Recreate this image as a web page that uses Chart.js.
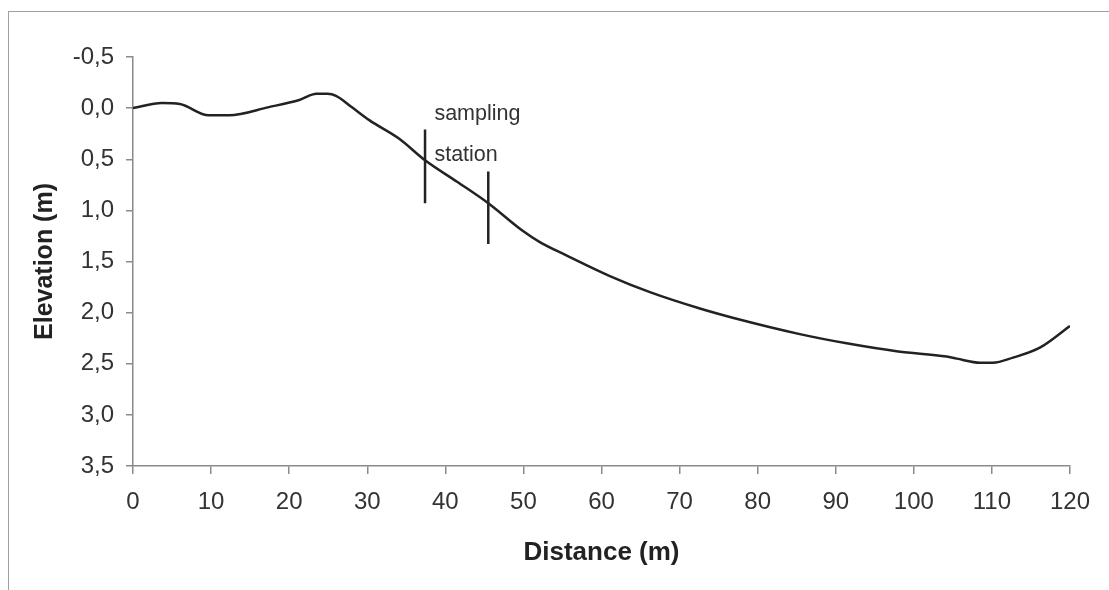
<!DOCTYPE html>
<html>
<head>
<meta charset="utf-8">
<script src="https://cdn.jsdelivr.net/npm/chart.js@4/dist/chart.umd.min.js"></script>
<style>
    html, body { margin: 0; padding: 0; background: #fff; overflow: hidden; }
    #wrap { position: relative; width: 1109px; height: 590px; }
    #frame { position: absolute; left: 8px; top: 11px; width: 1200px; height: 700px; border: 1px solid #a0a0a0; }
    #chart { position: absolute; left: 0; top: 0; }
</style>
</head>
<body>
<div id="wrap">
    <div id="frame"></div>
    <canvas id="chart" width="1109" height="590"></canvas>
</div>
<script>
// perfil del transecto
const distancia = [0, 3.7, 6, 9.7, 12.3, 17.4, 21.3, 23.5, 24.9, 26, 28, 30.3, 34.1, 37.4, 41.5, 45.5, 49.9, 52.1, 55.5, 61, 66.2, 72.6, 76.8, 85.4, 91.4, 98, 104.2, 105.5, 108.5, 110.1, 112.7, 116.2, 120];
const elevacion = [0, -0.05, -0.04, 0.07, 0.07, -0.01, -0.08, -0.14, -0.14, -0.12, -0.01, 0.12, 0.30, 0.51, 0.72, 0.93, 1.20, 1.31, 1.44, 1.64, 1.80, 1.96, 2.05, 2.21, 2.30, 2.38, 2.43, 2.45, 2.49, 2.49, 2.44, 2.34, 2.13];

// marcas de las estaciones de muestreo
const estacionX = [37.4, 45.5];
const estacionArriba = [0.21, 0.62];
const estacionAbajo = [0.93, 1.33];
const etiquetaTexto = ['sampling', 'station'];
const etiquetaX = 38.6;
const etiquetaY = [0.06, 0.46];

const xTicks = [0, 10, 20, 30, 40, 50, 60, 70, 80, 90, 100, 110, 120];
const yTicks = [-0.5, 0, 0.5, 1, 1.5, 2, 2.5, 3, 3.5];

const FONT = 'Arial, "Liberation Sans", sans-serif';
const AXIS = '#8a8a8a';
const TEXTO = '#333';

const perfil = distancia.map((d, i) => ({ x: d, y: elevacion[i] }));
const estaciones = estacionX.map((x, i) => ({
    data: [{ x: x, y: estacionArriba[i] }, { x: x, y: estacionAbajo[i] }],
    borderColor: '#222',
    borderWidth: 2.5,
    pointRadius: 0,
    tension: 0
}));

const etiquetasPlugin = {
    id: 'etiquetas',
    afterDatasetsDraw(chart) {
        const { ctx, scales: { x, y } } = chart;
        ctx.save();
        ctx.font = '21.5px ' + FONT;
        ctx.fillStyle = TEXTO;
        ctx.textAlign = 'left';
        ctx.textBaseline = 'middle';
        etiquetaTexto.forEach((t, i) => {
            ctx.fillText(t, x.getPixelForValue(etiquetaX), y.getPixelForValue(etiquetaY[i]));
        });
        ctx.restore();
    }
};

new Chart(document.getElementById('chart'), {
    type: 'line',
    data: {
        datasets: [{
            data: perfil,
            borderColor: '#222',
            borderWidth: 2.5,
            pointRadius: 0,
            cubicInterpolationMode: 'monotone'
        }, ...estaciones]
    },
    options: {
        responsive: false,
        animation: false,
        events: [],
        layout: { padding: { left: 30, top: 57, right: 39, bottom: 22 } },
        plugins: { legend: { display: false }, tooltip: { enabled: false } },
        scales: {
            x: {
                type: 'linear',
                min: 0,
                max: 120,
                afterBuildTicks: s => { s.ticks = xTicks.map(v => ({ value: v })); },
                afterFit: s => { s.height = 102; },
                grid: { drawOnChartArea: false, drawTicks: true, tickLength: 8, color: AXIS, lineWidth: 1.5 },
                border: { color: AXIS, width: 1.5 },
                ticks: { color: TEXTO, font: { family: FONT, size: 24 }, padding: 14, maxRotation: 0 },
                title: { display: true, text: 'Distance (m)', color: '#222', font: { family: FONT, size: 26, weight: 'bold' }, padding: 0 }
            },
            y: {
                type: 'linear',
                min: -0.5,
                max: 3.5,
                reverse: true,
                afterBuildTicks: s => { s.ticks = yTicks.map(v => ({ value: v })); },
                afterFit: s => { s.width = 103; },
                grid: { drawOnChartArea: false, drawTicks: true, tickLength: 7, color: AXIS, lineWidth: 1.5 },
                border: { color: AXIS, width: 1.5 },
                ticks: {
                    color: TEXTO,
                    font: { family: FONT, size: 24 },
                    padding: 12,
                    callback: v => v.toFixed(1).replace('.', ',')
                },
                title: { display: true, text: 'Elevation (m)', color: '#222', font: { family: FONT, size: 25, weight: 'bold' }, padding: 0 }
            }
        }
    },
    plugins: [etiquetasPlugin]
});
</script>
</body>
</html>
